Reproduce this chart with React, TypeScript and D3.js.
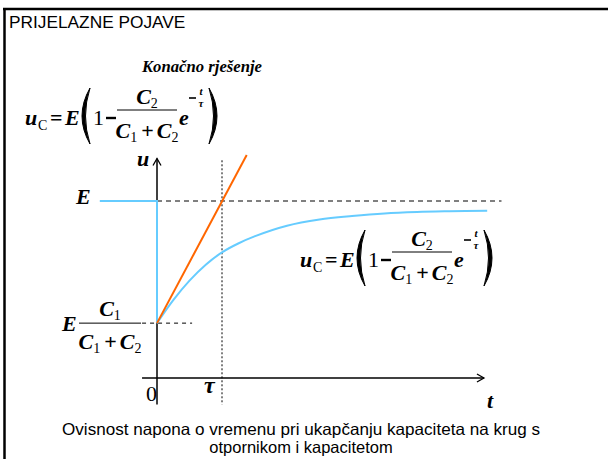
import React from "react";
import * as d3 from "d3";

// time in units of tau, voltage in units of E
const curveT = [0, 0.25, 0.5, 0.75, 1.0, 1.25, 1.5, 2.0, 2.5, 3.0, 3.5, 4.0, 4.5, 5.08];
const curveU = [0.31, 0.44, 0.55, 0.64, 0.71, 0.76, 0.8, 0.86, 0.895, 0.915, 0.93, 0.938, 0.942, 0.945];
const stepT = [-0.88, 0, 0];
const stepU = [1, 1, 0.31];
const tangentT = [0, 1.38];
const tangentU = [0.31, 1.26];
const levelE = 1;
const levelStart = 0.31;
const tauValue = 1;
const xAxisRange = [-0.23, 5.03];
const yAxisRange = [-0.15, 1.24];

const title = "PRIJELAZNE POJAVE";
const subtitle = "Konačno rješenje";
const caption1 = "Ovisnost napona o vremenu pri ukapčanju kapaciteta na krug s";
const caption2 = "otpornikom i kapacitetom";

const W = 608;
const H = 459;
const x = d3.scaleLinear().domain([0, 1]).range([157, 222]);
const y = d3.scaleLinear().domain([0, 1]).range([378, 201]);

const BLUE = "#66CCFF";
const ORANGE = "#FF6600";
const TIMES = "Liberation Serif, Times New Roman, serif";
const ARIAL = "Liberation Sans, Arial, sans-serif";

const bi = { fontFamily: TIMES, fontWeight: 700, fontStyle: "italic" } as const;

function Paren({ x0, top, bottom, left }: { x0: number; top: number; bottom: number; left: boolean }) {
  const mid = (top + bottom) / 2;
  const w = 11;
  const d = left
    ? `M${x0 + w},${top} Q${x0 - 5},${mid} ${x0 + w},${bottom} Q${x0 + 2},${mid} ${x0 + w},${top} Z`
    : `M${x0},${top} Q${x0 + w + 5},${mid} ${x0},${bottom} Q${x0 + w - 2},${mid} ${x0},${top} Z`;
  return <path d={d} fill="#000" stroke="#000" strokeWidth={1} strokeLinejoin="round" />;
}

function Denominator({ cx, by, a, b }: { cx: number; by: number; a: string; b: string }) {
  return (
    <text x={cx} y={by} fontSize={22} textAnchor="middle" style={bi}>
      C<tspan fontSize={14} fontStyle="normal" fontWeight={400} dy={4}>{a}</tspan>
      <tspan dy={-4} fontStyle="normal" dx={4}>+</tspan>
      <tspan dx={3}>C</tspan>
      <tspan fontSize={14} fontStyle="normal" fontWeight={400} dy={4}>{b}</tspan>
    </text>
  );
}

function Formula({ ox, oy }: { ox: number; oy: number }) {
  return (
    <g transform={`translate(${ox},${oy})`}>
      <text x={0} y={0} fontSize={22} style={bi}>u</text>
      <text x={13} y={5} fontSize={14} fontFamily={TIMES}>C</text>
      <text x={25} y={0} fontSize={22} fontFamily={TIMES} fontWeight={700}>=</text>
      <text x={40} y={0} fontSize={22} style={bi}>E</text>
      <Paren x0={54} top={-37} bottom={19} left={true} />
      <text x={68} y={0} fontSize={22} fontFamily={TIMES}>1</text>
      <line x1={81} x2={91} y1={-7} y2={-7} stroke="#000" strokeWidth={2.4} />
      <line x1={92} x2={152} y1={-15} y2={-15} stroke="#000" strokeWidth={1} />
      <text x={122} y={-21} fontSize={22} textAnchor="middle" style={bi}>
        C<tspan fontSize={14} fontStyle="normal" fontWeight={400} dy={4}>2</tspan>
      </text>
      <Denominator cx={122} by={13} a="1" b="2" />
      <text x={154} y={0} fontSize={22} style={bi}>e</text>
      <line x1={164} x2={171} y1={-27} y2={-27} stroke="#000" strokeWidth={1.6} />
      <text x={176} y={-30} fontSize={11} textAnchor="middle" style={bi}>t</text>
      <text x={176} y={-18} fontSize={11} textAnchor="middle" style={bi}>τ</text>
      <Paren x0={184} top={-37} bottom={19} left={false} />
    </g>
  );
}

export default function App() {
  const line = d3
    .line<[number, number]>()
    .x((d) => x(d[0]))
    .y((d) => y(d[1]));
  const smooth = d3
    .line<[number, number]>()
    .x((d) => x(d[0]))
    .y((d) => y(d[1]))
    .curve(d3.curveCatmullRom);

  const curvePts = curveT.map((t, i) => [t, curveU[i]] as [number, number]);
  const stepPts = stepT.map((t, i) => [t, stepU[i]] as [number, number]);
  const tanPts = tangentT.map((t, i) => [t, tangentU[i]] as [number, number]);

  const x0 = x(0);
  const yAxisTop = y(yAxisRange[1]);
  const xAxisEnd = x(xAxisRange[1]);
  const yZero = y(0);

  return (
    <svg
      width={W}
      height={H}
      style={{ position: "absolute", left: 0, top: 0, background: "#fff" }}
    >
      {/* frame */}
      <line x1={3} x2={W} y1={9} y2={9} stroke="#000" strokeWidth={2.5} />
      <line x1={4.5} x2={4.5} y1={8} y2={H} stroke="#000" strokeWidth={2.5} />

      <text x={9} y={28} fontSize={17.3} fontFamily={ARIAL}>{title}</text>
      <text x={142} y={72} fontSize={16} style={bi} textLength={120} lengthAdjust="spacingAndGlyphs">{subtitle}</text>

      <Formula ox={25} oy={125} />
      <Formula ox={300} oy={267} />

      {/* reference dashed lines */}
      <line x1={x0} x2={x(5.3)} y1={y(levelE)} y2={y(levelE)} stroke="#000" strokeWidth={1} strokeDasharray="5,4" />
      <line x1={x(-0.23)} x2={x(0.54)} y1={y(levelStart)} y2={y(levelStart)} stroke="#000" strokeWidth={1} strokeDasharray="4,4" />
      <line x1={x(tauValue)} x2={x(tauValue)} y1={y(1.23)} y2={y(-0.15)} stroke="#000" strokeWidth={1} strokeDasharray="2,2" />

      {/* axes */}
      <line x1={x0} x2={x0} y1={y(yAxisRange[0])} y2={yAxisTop} stroke="#000" strokeWidth={1.5} />
      <path d={`M${x0 - 4},${yAxisTop + 7} L${x0},${yAxisTop} L${x0 + 4},${yAxisTop + 7}`} fill="none" stroke="#000" strokeWidth={1.3} />
      <line x1={x(xAxisRange[0])} x2={xAxisEnd} y1={yZero} y2={yZero} stroke="#000" strokeWidth={1.5} />
      <path d={`M${xAxisEnd - 7},${yZero - 4} L${xAxisEnd},${yZero} L${xAxisEnd - 7},${yZero + 4}`} fill="none" stroke="#000" strokeWidth={1.3} />

      {/* curves */}
      <path d={line(stepPts) ?? ""} fill="none" stroke={BLUE} strokeWidth={2} />
      <path d={smooth(curvePts) ?? ""} fill="none" stroke={BLUE} strokeWidth={2} />
      <path d={line(tanPts) ?? ""} fill="none" stroke={ORANGE} strokeWidth={2} />

      {/* axis labels */}
      <text x={137} y={166} fontSize={22} style={bi}>u</text>
      <text x={76} y={204} fontSize={22} style={bi}>E</text>
      <text x={146} y={401} fontSize={22} fontFamily={TIMES}>0</text>
      <text x={204} y={393} fontSize={24} style={bi}>τ</text>
      <text x={487} y={408} fontSize={22} style={bi}>t</text>

      {/* E * C1/(C1+C2) */}
      <text x={62} y={331} fontSize={22} style={bi}>E</text>
      <line x1={79} x2={141} y1={y(levelStart)} y2={y(levelStart)} stroke="#000" strokeWidth={1} />
      <text x={110} y={316} fontSize={22} textAnchor="middle" style={bi}>
        C<tspan fontSize={14} fontStyle="normal" fontWeight={400} dy={4}>1</tspan>
      </text>
      <Denominator cx={110} by={349} a="1" b="2" />

      <text x={301} y={435} fontSize={16.5} textAnchor="middle" fontFamily={ARIAL} textLength={478} lengthAdjust="spacingAndGlyphs">{caption1}</text>
      <text x={301} y={453} fontSize={16.5} textAnchor="middle" fontFamily={ARIAL}>{caption2}</text>
    </svg>
  );
}
